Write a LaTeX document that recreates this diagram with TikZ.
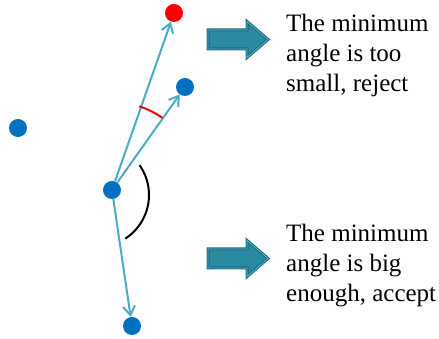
\documentclass[tikz,border=0pt]{standalone}
\usepackage{fontspec}
\setmainfont{Liberation Serif}
\usetikzlibrary{positioning,arrows.meta,calc}

\definecolor{dotblue}{HTML}{0070C0}
\definecolor{linkblue}{HTML}{4BACC6}
\definecolor{tealdark}{HTML}{1D6B7E}
\definecolor{tealmid}{HTML}{2A8AA2}
\definecolor{teallight}{HTML}{4DB8D0}

\begin{document}
\begin{tikzpicture}[
  x=1pt, y=1pt,
  font=\fontsize{25}{30}\selectfont, >={Straight Barb[length=9pt,width=12pt]},
  pt/.style={circle, fill=dotblue, inner sep=0pt, minimum size=18pt},
  hit/.style={pt, fill=red},
  link/.style={->, line width=2pt, linkblue},
  verdict/.style={fill=tealmid, draw=tealdark, double=teallight,
    double distance=0.8pt, line width=1.1pt, line join=miter},
  note/.style={align=left, anchor=base west, inner sep=0pt},
]
\useasboundingbox (0,0) rectangle (439,339);
% ---- points ----
\node[pt] (c) at (112,149) {};
\node[hit] (far) at (174,326) {};
\node[pt] (near) at (185,252) {};
\node[pt] (lone) at (18,211) {};
\node[pt] (down) at (132,13) {};
% ---- links ----
\foreach \p in {far,near,down} \draw[link] (c) -- (\p);
% ---- angles ----
\draw[red, line width=2pt] ($(c)+(55:88)$) arc[start angle=55, end angle=72, radius=88];
\draw[black, line width=2pt] ($(c)+(-15,-5)+(35:52)$) arc[start angle=35, end angle=-57, radius=52];
% ---- verdicts ----
\coordinate (rej) at (208,299.5);
\coordinate (acc) at (208,80.5);
\foreach \v in {rej,acc}
  \draw[verdict] (\v) ++(0,9.5) -- ++(39,0) -- ++(0,8.5) -- ++(21,-18) -- ++(-21,-18)
    -- ++(0,8.5) -- ++(-39,0) -- cycle;
\node[note] (rejtxt) at (286,247) {The minimum\\angle is too\\small, reject};
\node[note] (acctxt) at (286,37) {The minimum\\angle is big\\enough, accept};
\end{tikzpicture}
\end{document}
